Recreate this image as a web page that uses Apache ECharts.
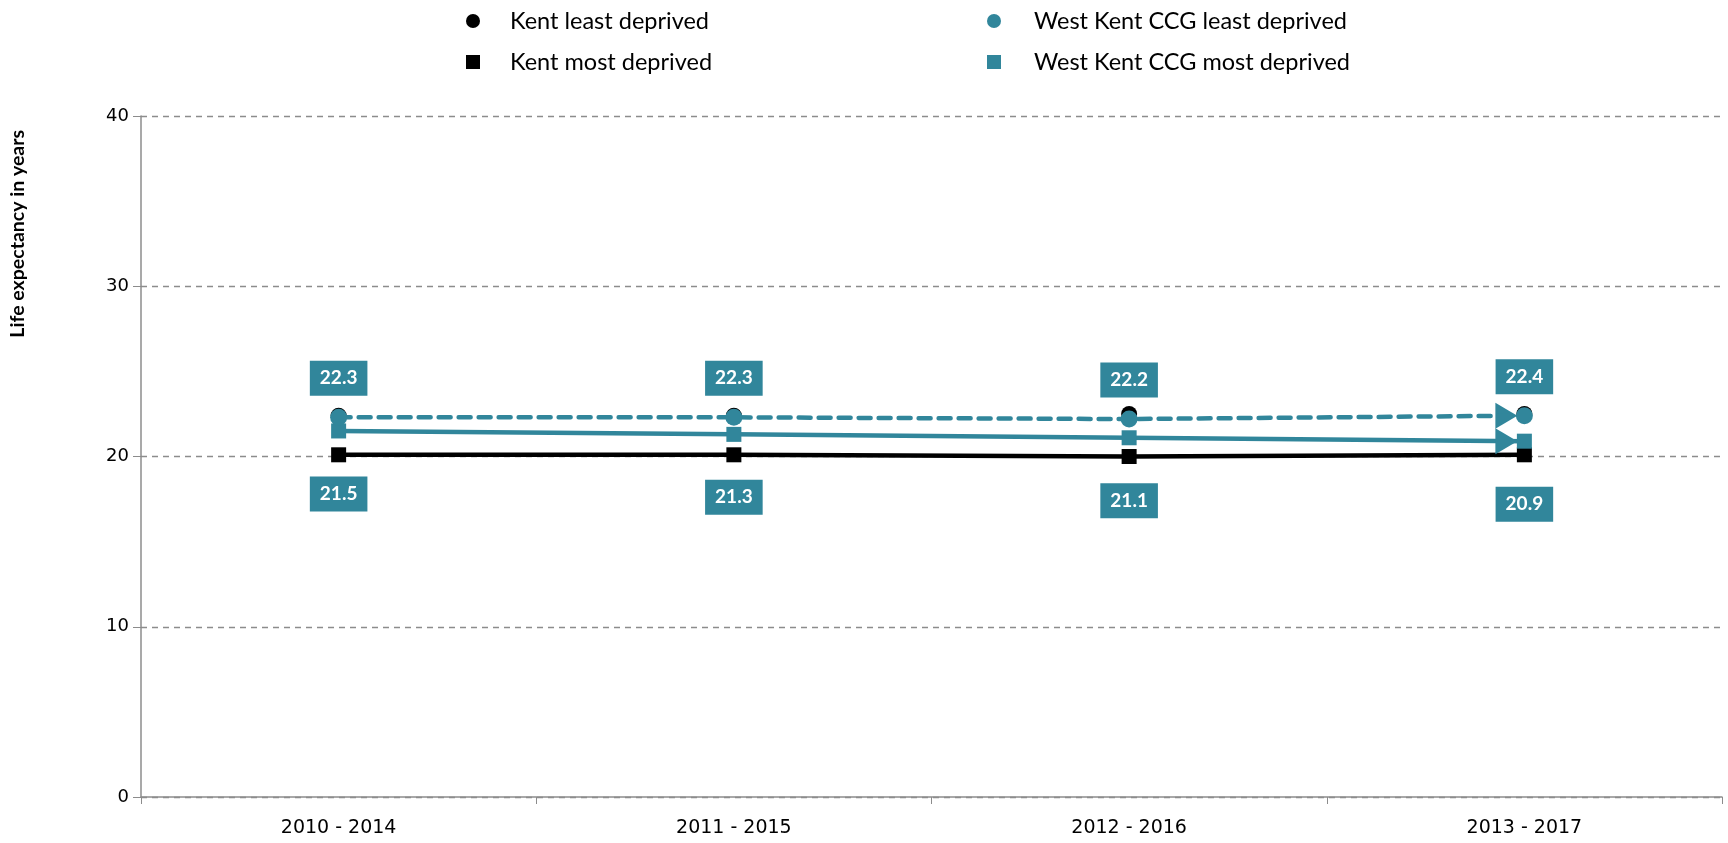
<!DOCTYPE html>
<html>
<head>
<meta charset="utf-8">
<script src="https://cdn.jsdelivr.net/npm/echarts@6/dist/echarts.min.js"></script>
<style>html,body{margin:0;padding:0;background:#fff}#c{width:1728px;height:843px}</style>
</head>
<body>
<div id="c"></div>
<script>
const categories = ['2010 - 2014', '2011 - 2015', '2012 - 2016', '2013 - 2017'];
const kentLeast = [22.4, 22.4, 22.5, 22.5];
const kentMost = [20.1, 20.1, 20.0, 20.1];
const wkLeast = [22.3, 22.3, 22.2, 22.4];
const wkMost = [21.5, 21.3, 21.1, 20.9];
const yTicks = [0, 10, 20, 30, 40];

const TEAL = '#31869B';
const chart = echarts.init(document.getElementById('c'));

const boxLabel = (pos, dist) => ({
  show: true, position: pos, distance: dist,
  backgroundColor: TEAL, color: '#fff', fontFamily: 'Lato', fontWeight: 'bold',
  fontSize: 19, lineHeight: 19, padding: [8, 10],
  formatter: p => p.value.toFixed(1)
});

const arrow = (vals) => ({
  symbol: 'triangle', symbolRotate: -90, symbolSize: [26, 22], symbolOffset: [-18, 0],
  itemStyle: { color: TEAL }, label: { show: false }, silent: true,
  data: [{ coord: [categories.length - 1, vals[vals.length - 1]] }]
});

const legendText = (pad) => ({ fontFamily: 'Lato', fontSize: 23.5, lineHeight: 23, color: '#000', padding: [0, 0, 0, pad] });

chart.setOption({
  animation: false,
  grid: { left: 141, right: 6, top: 116, bottom: 46 },
  legend: [
    { left: 461, top: 4, orient: 'vertical', itemGap: 17, itemWidth: 14, itemHeight: 14,
      textStyle: legendText(25),
      data: [{ name: 'Kent least deprived', icon: 'circle' }, { name: 'Kent most deprived', icon: 'rect' }] },
    { left: 982, top: 4, orient: 'vertical', itemGap: 17, itemWidth: 14, itemHeight: 14,
      textStyle: legendText(28),
      data: [{ name: 'West Kent CCG least deprived', icon: 'circle' }, { name: 'West Kent CCG most deprived', icon: 'rect' }] }
  ],
  graphic: [{
    type: 'text', left: 8, top: 130, rotation: Math.PI / 2,
    style: { text: 'Life expectancy in years', fontFamily: 'Lato', fontWeight: 'bold', fontSize: 19.5, fill: '#000' }
  }],
  xAxis: {
    type: 'category', data: categories, boundaryGap: true,
    axisLine: { lineStyle: { color: '#8c8c8c', width: 1.5 } },
    axisTick: { show: true, length: 7, lineStyle: { color: '#8c8c8c' } },
    axisLabel: { fontFamily: 'DejaVu Sans', fontSize: 19, color: '#000', margin: 22 }
  },
  yAxis: {
    type: 'value', min: yTicks[0], max: yTicks[yTicks.length - 1], interval: 10,
    axisLine: { show: true, lineStyle: { color: '#8c8c8c', width: 1.5 } },
    axisTick: { show: true, length: 8, lineStyle: { color: '#8c8c8c' } },
    axisLabel: { fontFamily: 'DejaVu Sans', fontSize: 18, color: '#000', margin: 12 },
    splitLine: { show: true, lineStyle: { color: '#8c8c8c', type: [6, 5], width: 1.3 } }
  },
  series: [
    { name: 'Kent most deprived', type: 'line', data: kentMost, z: 2,
      symbol: 'rect', symbolSize: 15, itemStyle: { color: '#000' },
      lineStyle: { color: '#000', width: 4.5 } },
    { name: 'West Kent CCG most deprived', type: 'line', data: wkMost, z: 3,
      symbol: 'rect', symbolSize: 15, itemStyle: { color: TEAL },
      lineStyle: { color: TEAL, width: 4.5 },
      label: boxLabel('bottom', 38), markPoint: arrow(wkMost) },
    { name: 'Kent least deprived', type: 'line', data: kentLeast, z: 4,
      symbol: 'circle', symbolSize: 16, itemStyle: { color: '#000' },
      lineStyle: { opacity: 0 } },
    { name: 'West Kent CCG least deprived', type: 'line', data: wkLeast, z: 5,
      symbol: 'circle', symbolSize: 17, itemStyle: { color: TEAL },
      lineStyle: { color: TEAL, width: 4.5, type: [12, 8], cap: 'round' },
      label: boxLabel('top', 13), markPoint: arrow(wkLeast) }
  ]
});
</script>
</body>
</html>
